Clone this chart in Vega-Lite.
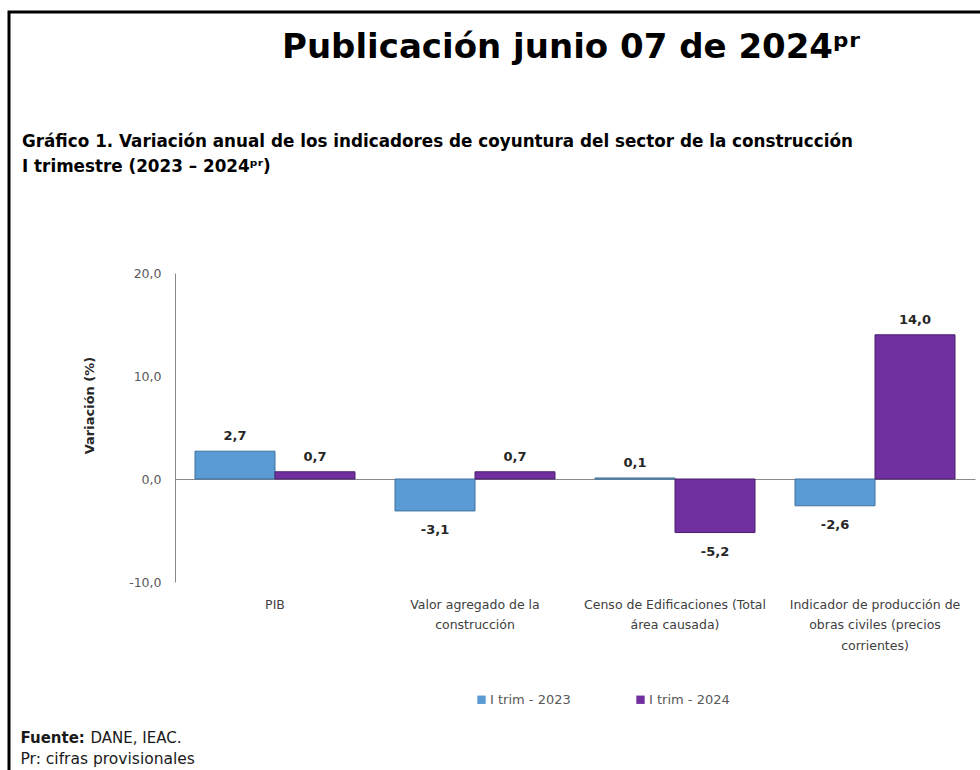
{
  "$schema": "https://vega.github.io/schema/vega-lite/v6.json",
  "autosize": {"type": "none"},
  "padding": {"left": 9, "top": 12, "right": 0, "bottom": 0},
  "width": 971,
  "height": 758,
  "background": "white",
  "title": {
    "text": "Publicación junio 07 de 2024ᵖʳ",
    "subtitle": ["Gráfico 1. Variación anual de los indicadores de coyuntura del sector de la construcción", "I trimestre (2023 – 2024ᵖʳ)"],
    "anchor": "start",
    "frame": "group",
    "orient": "top",
    "offset": -164,
    "dx": 13,
    "encoding": {"dx": {"value": 273}},
    "font": "DejaVu Sans",
    "fontSize": 34,
    "fontWeight": "bold",
    "color": "#000000",
    "subtitleFont": "DejaVu Sans",
    "subtitleFontSize": 16.8,
    "subtitleFontWeight": "bold",
    "subtitleColor": "#000000",
    "subtitleLineHeight": 25,
    "subtitlePadding": 69
  },
  "data": {
    "values": [
      {"indicador": "PIB", "serie": "I trim - 2023", "variacion": 2.7},
      {"indicador": "PIB", "serie": "I trim - 2024", "variacion": 0.7},
      {"indicador": "Valor agregado de la construcción", "serie": "I trim - 2023", "variacion": -3.1},
      {"indicador": "Valor agregado de la construcción", "serie": "I trim - 2024", "variacion": 0.7},
      {"indicador": "Censo de Edificaciones (Total área causada)", "serie": "I trim - 2023", "variacion": 0.1},
      {"indicador": "Censo de Edificaciones (Total área causada)", "serie": "I trim - 2024", "variacion": -5.2},
      {"indicador": "Indicador de producción de obras civiles (precios corrientes)", "serie": "I trim - 2023", "variacion": -2.6},
      {"indicador": "Indicador de producción de obras civiles (precios corrientes)", "serie": "I trim - 2024", "variacion": 14.0}
    ]
  },
  "encoding": {
    "x": {
      "field": "indicador",
      "type": "nominal",
      "sort": null,
      "scale": {"range": [166, 966], "paddingInner": 0.2, "paddingOuter": 0.1},
      "axis": {
        "orient": "bottom",
        "offset": -291,
        "domainColor": "#898989",
        "domainWidth": 1,
        "ticks": false,
        "tickSize": 0,
        "grid": false,
        "labelAngle": 0,
        "labelPadding": 119,
        "labelBaseline": "top",
        "labelFont": "DejaVu Sans",
        "labelFontSize": 12.5,
        "labelColor": "#404040",
        "labelLineHeight": 20.5,
        "labelLimit": 300,
        "labelExpr": "datum.value == 'PIB' ? 'PIB' : datum.value == 'Valor agregado de la construcción' ? ['Valor agregado de la', 'construcción'] : datum.value == 'Censo de Edificaciones (Total área causada)' ? ['Censo de Edificaciones (Total', 'área causada)'] : ['Indicador de producción de', 'obras civiles (precios', 'corrientes)']",
        "title": "Pr: cifras provisionales",
        "titleX": 11,
        "titleY": 284,
        "titleAlign": "left",
        "titleAnchor": null,
        "titleBaseline": "alphabetic",
        "titleFont": "DejaVu Sans",
        "titleFontSize": 15.5,
        "titleFontWeight": "normal",
        "titleColor": "#1a1a1a"
      }
    },
    "xOffset": {
      "field": "serie",
      "type": "nominal",
      "sort": ["I trim - 2023", "I trim - 2024"],
      "scale": {"paddingInner": 0, "paddingOuter": 0}
    }
  },
  "layer": [
    {
      "mark": {"type": "bar", "strokeWidth": 1},
      "encoding": {
        "y": {
          "field": "variacion",
          "type": "quantitative",
          "scale": {"domain": [-10, 20], "range": [570, 261], "nice": false, "zero": false},
          "axis": {
            "orient": "left",
            "offset": -166,
            "values": [-10, 0, 10, 20],
            "format": ".1f",
            "domainColor": "#898989",
            "domainWidth": 1,
            "ticks": false,
            "tickSize": 0,
            "grid": false,
            "labelPadding": 14,
            "labelFont": "DejaVu Sans",
            "labelFontSize": 12.5,
            "labelColor": "#595959",
            "title": "Variación (%)",
            "titleX": -86,
            "titleY": 393,
            "titleAngle": 270,
            "titleAlign": "center",
            "titleBaseline": "middle",
            "titleFont": "DejaVu Sans",
            "titleFontSize": 13,
            "titleFontWeight": "bold",
            "titleColor": "#262626"
          }
        },
        "color": {
          "field": "serie",
          "type": "nominal",
          "scale": {"domain": ["I trim - 2023", "I trim - 2024"], "range": ["#5B9BD5", "#7030A0"]},
          "legend": {
            "orient": "none",
            "legendX": 466,
            "legendY": 681,
            "direction": "horizontal",
            "title": null,
            "symbolType": "square",
            "symbolSize": 70,
            "symbolStrokeWidth": 0,
            "labelFont": "DejaVu Sans",
            "labelFontSize": 13,
            "labelColor": "#595959",
            "labelOffset": 2,
            "columnPadding": 63
          }
        },
        "stroke": {
          "field": "serie",
          "type": "nominal",
          "scale": {"domain": ["I trim - 2023", "I trim - 2024"], "range": ["#41719C", "#4B1F6F"]},
          "legend": null
        }
      }
    },
    {
      "transform": [{"filter": "datum.variacion >= 0"}],
      "mark": {"type": "text", "baseline": "middle", "dy": -15, "font": "DejaVu Sans", "fontSize": 13, "fontWeight": "bold", "color": "#262626"},
      "encoding": {
        "y": {
          "field": "variacion",
          "type": "quantitative",
          "scale": {"domain": [-10, 20], "range": [570, 261], "nice": false, "zero": false},
          "axis": {
            "orient": "right",
            "domain": false,
            "labels": false,
            "ticks": false,
            "grid": false,
            "title": "Fuente:",
            "titleX": -960,
            "titleY": 730,
            "titleAngle": 0,
            "titleAlign": "left",
            "titleAnchor": null,
            "titleBaseline": "alphabetic",
            "titleFont": "DejaVu Sans",
            "titleFontSize": 15,
            "titleFontWeight": "bold",
            "titleColor": "#1a1a1a"
          }
        },
        "text": {"field": "variacion", "type": "quantitative", "format": ".1f"}
      }
    },
    {
      "transform": [{"filter": "datum.variacion < 0"}],
      "mark": {"type": "text", "baseline": "middle", "dy": 19, "font": "DejaVu Sans", "fontSize": 13, "fontWeight": "bold", "color": "#262626"},
      "encoding": {
        "y": {
          "field": "variacion",
          "type": "quantitative",
          "scale": {"domain": [-10, 20], "range": [570, 261], "nice": false, "zero": false},
          "axis": {
            "orient": "right",
            "domain": false,
            "labels": false,
            "ticks": false,
            "grid": false,
            "title": "DANE, IEAC.",
            "titleX": -890,
            "titleY": 730,
            "titleAngle": 0,
            "titleAlign": "left",
            "titleAnchor": null,
            "titleBaseline": "alphabetic",
            "titleFont": "DejaVu Sans",
            "titleFontSize": 15,
            "titleFontWeight": "normal",
            "titleColor": "#1a1a1a"
          }
        },
        "text": {"field": "variacion", "type": "quantitative", "format": ".1f"}
      }
    }
  ],
  "resolve": {"scale": {"y": "independent"}, "axis": {"y": "independent"}},
  "config": {
    "font": "DejaVu Sans",
    "locale": {"number": {"decimal": ",", "thousands": ".", "grouping": [3], "currency": ["$", ""], "minus": "-"}},
    "view": {"stroke": "#000000", "strokeWidth": 3, "strokeDash": [971, 1729, 758, 10]}
  }
}
